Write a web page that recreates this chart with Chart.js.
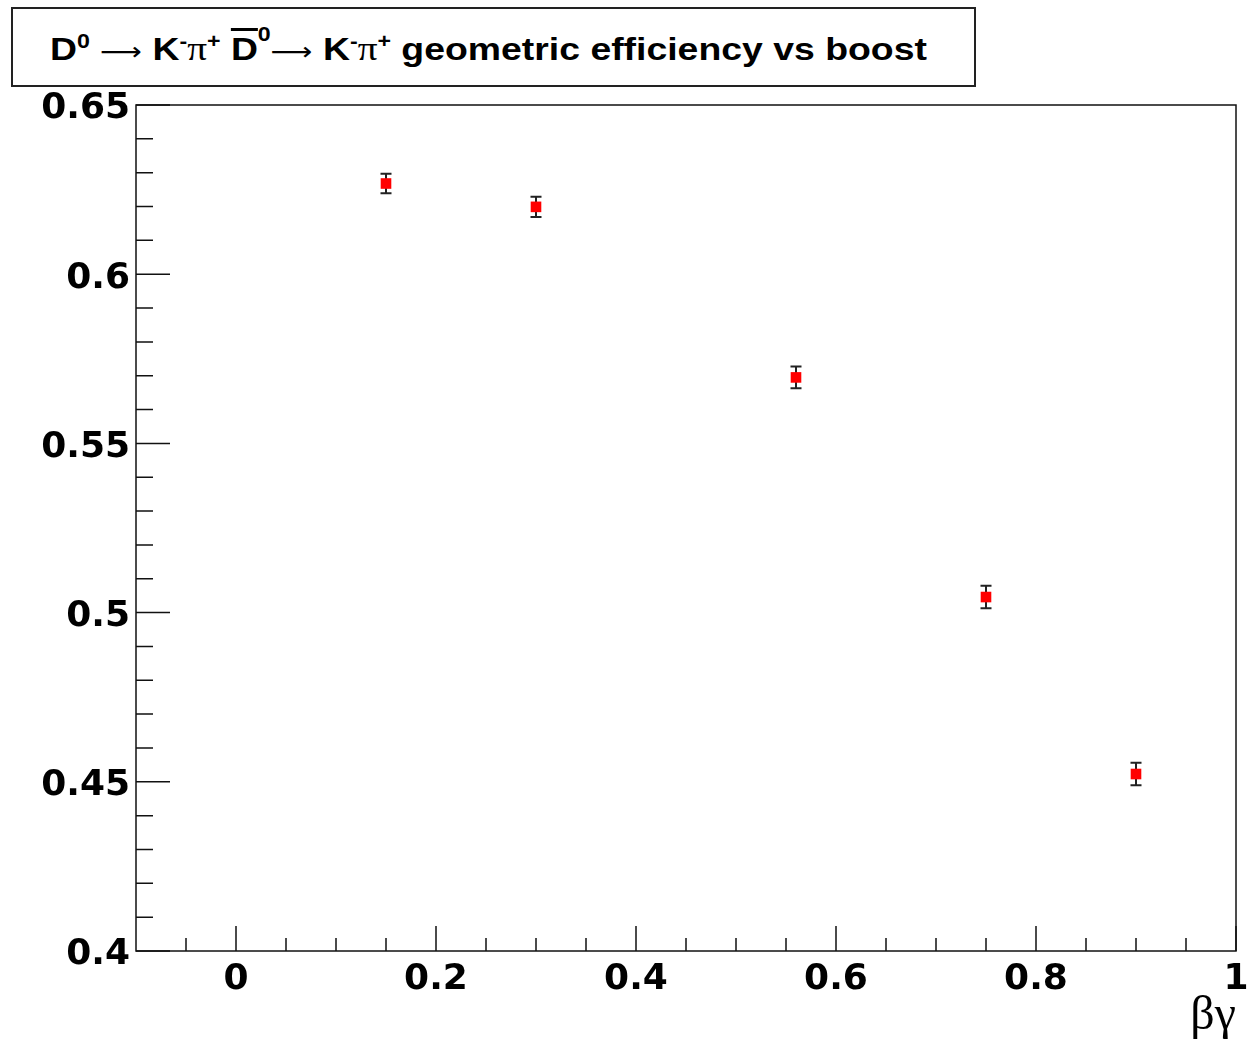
<!DOCTYPE html>
<html>
<head>
<meta charset="utf-8">
<script src="https://cdn.jsdelivr.net/npm/chart.js@4"></script>
<style>
  body { margin: 0; background: #fff; }
  #wrap { position: relative; width: 1250px; height: 1040px; }
  #titulo {
    position: absolute; left: 11px; top: 7px; width: 961px; height: 76px;
    border: 2px solid #222; box-sizing: content-box; background: #fff;
  }
  #titulo .txt {
    position: absolute; left: 37px; top: 21px; white-space: nowrap; line-height: 1;
    font: bold 32px "Liberation Sans", Arial, sans-serif; color: #000;
    transform: scaleX(1.168); transform-origin: left center;
  }
  #titulo sup { font-size: 0.62em; vertical-align: 0; position: relative; top: -0.62em; }
  #titulo sup.alto { top: -0.95em; }
  #titulo .sym { font-family: "Liberation Serif", serif; font-weight: normal; font-size: 1.05em; }
  #titulo .seta { font-family: "DejaVu Sans", sans-serif; font-weight: normal; font-size: 0.78em; }
  #titulo .barra { text-decoration: overline; text-decoration-thickness: 3px; }
</style>
</head>
<body>
<div id="wrap">
  <canvas id="grafico" width="1250" height="1040"></canvas>
  <div id="titulo"><div class="txt">D<sup>0</sup> <span class="seta">⟶</span> K<sup>-</sup><span class="sym">π</span><sup>+</sup> <span class="barra">D</span><sup class="alto">0</sup><span class="seta">⟶</span> K<sup>-</sup><span class="sym">π</span><sup>+</sup> geometric efficiency vs boost</div></div>
</div>
<script>
// dados
const boost = [0.15, 0.30, 0.56, 0.75, 0.90];
const eficiencia = [0.6268, 0.6199, 0.5695, 0.5046, 0.4523];
const erro = [0.0029, 0.0030, 0.0032, 0.0033, 0.0033];

const xTicks = [0, 0.2, 0.4, 0.6, 0.8, 1.0];
const yTicks = [0.40, 0.45, 0.50, 0.55, 0.60, 0.65];
const xMenores = [-0.05, 0.05, 0.1, 0.15, 0.25, 0.3, 0.35, 0.45, 0.5, 0.55, 0.65, 0.7, 0.75, 0.85, 0.9, 0.95];
const yMenores = [0.41, 0.42, 0.43, 0.44, 0.46, 0.47, 0.48, 0.49, 0.51, 0.52, 0.53, 0.54, 0.56, 0.57, 0.58, 0.59, 0.61, 0.62, 0.63, 0.64];

const pontos = boost.map((x, i) => ({ x: x, y: eficiencia[i] }));

const fonteEixo = { family: "DejaVu Sans", weight: "bold", size: 36 };

// desenha moldura, ticks internos e barras de erro
const extras = {
  id: "extras",
  beforeDatasetsDraw(chart) {
    const ctx = chart.ctx;
    const xs = chart.scales.x, ys = chart.scales.y;
    const a = chart.chartArea;
    ctx.save();
    ctx.strokeStyle = "#111";
    ctx.lineWidth = 1.5;
    ctx.strokeRect(a.left, a.top, a.right - a.left, a.bottom - a.top);
    ctx.beginPath();
    yTicks.forEach(v => { const p = ys.getPixelForValue(v); ctx.moveTo(a.left, p); ctx.lineTo(a.left + 34, p); });
    yMenores.forEach(v => { const p = ys.getPixelForValue(v); ctx.moveTo(a.left, p); ctx.lineTo(a.left + 17, p); });
    xTicks.forEach(v => { const p = xs.getPixelForValue(v); ctx.moveTo(p, a.bottom); ctx.lineTo(p, a.bottom - 25); });
    xMenores.forEach(v => { const p = xs.getPixelForValue(v); ctx.moveTo(p, a.bottom); ctx.lineTo(p, a.bottom - 13); });
    ctx.stroke();

    // barras de erro
    ctx.lineWidth = 2;
    ctx.strokeStyle = "#222";
    ctx.beginPath();
    boost.forEach((x, i) => {
      const px = xs.getPixelForValue(x);
      const top = ys.getPixelForValue(eficiencia[i] + erro[i]);
      const bot = ys.getPixelForValue(eficiencia[i] - erro[i]);
      ctx.moveTo(px, top); ctx.lineTo(px, bot);
      ctx.moveTo(px - 5.5, top); ctx.lineTo(px + 5.5, top);
      ctx.moveTo(px - 5.5, bot); ctx.lineTo(px + 5.5, bot);
    });
    ctx.stroke();
    ctx.restore();
  }
};

const grafico = new Chart(document.getElementById("grafico"), {
  type: "scatter",
  data: {
    datasets: [{
      label: "eficiencia",
      data: pontos,
      pointStyle: "rect",
      pointRadius: 7.5,
      pointHoverRadius: 7.5,
      backgroundColor: "#ff0000",
      borderWidth: 0
    }]
  },
  options: {
    responsive: false,
    animation: false,
    events: [],
    layout: { padding: { top: 105, right: 14, left: 0, bottom: 0 } },
    plugins: { legend: { display: false }, tooltip: { enabled: false }, title: { display: false } },
    scales: {
      x: {
        type: "linear",
        min: -0.1,
        max: 1.0,
        grid: { display: false, drawTicks: false },
        border: { display: false },
        afterBuildTicks: s => { s.ticks = xTicks.map(v => ({ value: v })); },
        afterFit: s => { s.height = 89; s.paddingLeft = 0; s.paddingRight = 0; },
        ticks: {
          padding: 7,
          color: "#000",
          font: fonteEixo,
          maxRotation: 0,
          autoSkip: false,
          callback: v => String(Math.round(v * 10) / 10)
        },
        title: {
          display: true,
          text: "βγ",
          align: "end",
          color: "#000",
          padding: 0,
          font: { family: "Liberation Serif", size: 48, lineHeight: 1 }
        }
      },
      y: {
        type: "linear",
        min: 0.4,
        max: 0.65,
        grid: { display: false, drawTicks: false },
        border: { display: false },
        afterBuildTicks: s => { s.ticks = yTicks.map(v => ({ value: v })); },
        afterFit: s => { s.width = 136; s.paddingTop = 0; s.paddingBottom = 0; },
        ticks: {
          padding: 6,
          labelOffset: 4,
          color: "#000",
          font: fonteEixo,
          autoSkip: false,
          callback: v => String(Math.round(v * 100) / 100)
        }
      }
    }
  },
  plugins: [extras]
});
</script>
</body>
</html>
